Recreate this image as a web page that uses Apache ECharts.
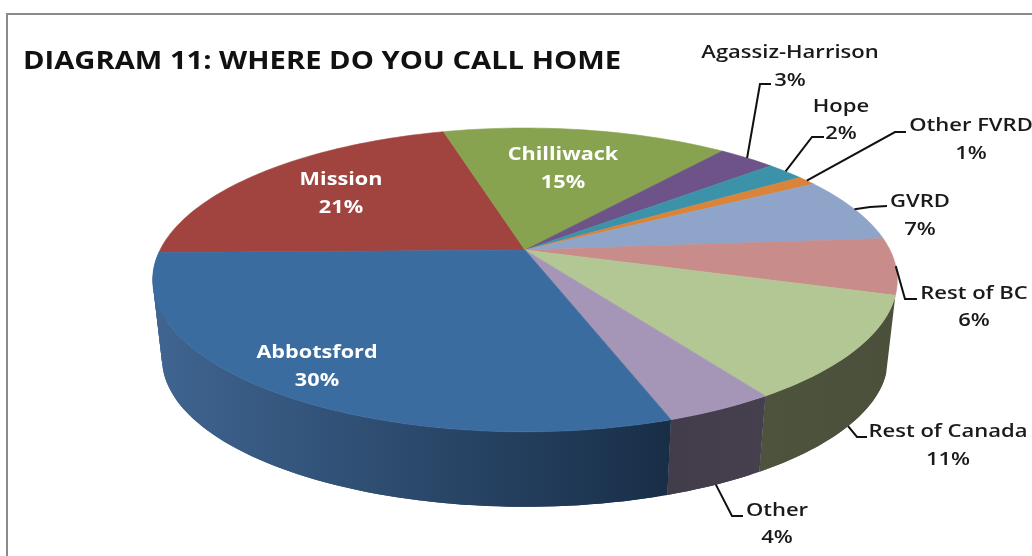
<!DOCTYPE html>
<html>
<head>
<meta charset="utf-8">
<style>html,body{margin:0;padding:0;background:#fff}#chart{width:1032px;height:556px}</style>
<script src="https://cdn.jsdelivr.net/npm/echarts@6/dist/echarts.min.js"></script>
</head>
<body>
<div id="chart"></div>
<script>
// Survey answers, in clockwise order from the nine o'clock position.
const places = ['Mission','Chilliwack','Agassiz-Harrison','Hope','Other FVRD','GVRD','Rest of BC','Rest of Canada','Other','Abbotsford'];
const shares = [21,15,3,2,1,7,6,11,4,30];

const topColors = ['#a14440','#88a34f','#6d5388','#3c93a9','#da8339','#8ea4c8','#c88c8a','#b3c795','#a595b7','#3b6c9f'];
// Wall gradients as [left colour, right colour]; slices at the back show no wall.
const wallColors = [null,null,null,null,null,null,null,['#4d533c','#4b503a'],['#423c4b','#453f4e'],['#3f6591','#182e47']];

// Tilted disc with a perspective camera.
const view = {cx:525, cy:250, radius:365, tilt:146, persp:0.197, startDeg:269, baseScale:0.975, baseDrop:79.5};

// Label placement: [x, name y, value y]; inner labels have no leader.
const labelAt = [[341,180,208],[563,155,183],[790,52.5,80.5],[841,106.5,133.5],[971,126,153.5],[920,201.5,229.5],[974,293.5,320.5],[948,431.5,459.5],[777,510.5,537.5],[317,353,381]];
// Leader elbows: [elbow x, elbow y, end x, end y]; null for labels inside the pie.
const leaderBends = [null,null,[760,84,771,84],[812,137,824,137],[895,132,906,132],[870,207,887,206],[905,299,917,299],[857,437,867,437],[732,516,743,516],null];
const leaderFromBase = [false,false,false,false,false,false,false,true,true,false];
const insideLabel = [true,true,false,false,false,false,false,false,false,true];

const total = shares.reduce((a,b)=>a+b,0);
const edges = [view.startDeg];
shares.forEach(v => edges.push(edges[edges.length-1] + v/total*360));

function project(deg, onBase){
  const t = deg*Math.PI/180, sx = Math.sin(t), cz = Math.cos(t);
  const den = 1 + view.persp*cz;
  const s = onBase ? view.baseScale : 1, drop = onBase ? view.baseDrop : 0;
  return [view.cx + s*view.radius*sx/den, view.cy + drop - s*view.tilt*cz/den];
}
function rim(a, b, onBase){
  const n = Math.max(2, Math.ceil((b-a)/1.5)), pts = [];
  for(let k=0;k<=n;k++) pts.push(project(a+(b-a)*k/n, onBase));
  return pts;
}

const rows = places.map((p,i)=>[i, shares[i], p]);
const lineStyle = {stroke:'#111', lineWidth:2, fill:null};
const font = '"Open Sans", sans-serif';

const chart = echarts.init(document.getElementById('chart'), null, {renderer:'canvas'});
chart.setOption({
  backgroundColor:'#fff',
  animation:false,
  graphic:[
    {type:'rect', silent:true, z:0, shape:{x:7,y:14,width:1200,height:900}, style:{fill:'#fff',stroke:'#8a8a8a',lineWidth:2}},
    {type:'text', silent:true, z:5, x:23, y:50, scaleX:1.19, style:{text:'DIAGRAM 11: WHERE DO YOU CALL HOME', font:'700 24.5px '+font, fill:'#111'}}
  ],
  series:[
    { // outer walls, built from overlapping facets so the sides of the disc stay filled
      type:'custom', coordinateSystem:'none', z:2, silent:true, data:rows,
      renderItem(params, api){
        const i = api.value(0), c = wallColors[i];
        if(!c) return {type:'group', children:[]};
        const upper = rim(edges[i],edges[i+1],false), lower = rim(edges[i],edges[i+1],true);
        const xs = upper.concat(lower).map(p=>p[0]);
        const fill = new echarts.graphic.LinearGradient(Math.min(...xs),0,Math.max(...xs),0,[{offset:0,color:c[0]},{offset:1,color:c[1]}],true);
        const children = [];
        for(let k=0;k<upper.length-1;k++){
          const e = Math.min(k+2, upper.length-1);
          const pts = upper.slice(k,e+1).concat(lower.slice(k,e+1).reverse());
          children.push({type:'polygon', shape:{points:pts}, style:{fill}});
        }
        return {type:'group', children};
      }
    },
    { // top face of each slice
      type:'custom', coordinateSystem:'none', z:3, silent:true, data:rows,
      renderItem(params, api){
        const i = api.value(0);
        const pts = [[view.cx,view.cy]].concat(rim(edges[i],edges[i+1],false));
        return {type:'polygon', shape:{points:pts}, style:{fill:topColors[i], stroke:topColors[i], lineWidth:0.6}};
      }
    },
    { // leaders and captions
      type:'custom', coordinateSystem:'none', z:4, silent:true, data:rows,
      renderItem(params, api){
        const i = api.value(0), children = [];
        const pos = labelAt[i], inside = insideLabel[i], fill = inside ? '#fff' : '#1a1a1a';
        const bend = leaderBends[i];
        if(bend){
          const start = project((edges[i]+edges[i+1])/2, leaderFromBase[i]);
          children.push({type:'polyline', shape:{points:[start,[bend[0],bend[1]],[bend[2],bend[3]]]}, style:lineStyle});
        }
        const weight = inside ? 700 : 600;
        const mk = (txt,y)=>({type:'text', x:pos[0], y, scaleX:inside?1.17:1.19, style:{text:txt, fill, font:weight+' 18.5px '+font, textAlign:'center', textVerticalAlign:'middle'}});
        children.push(mk(places[i],pos[1]), mk(api.value(1)+'%',pos[2]));
        return {type:'group', children};
      }
    }
  ]
});
</script>
</body>
</html>
